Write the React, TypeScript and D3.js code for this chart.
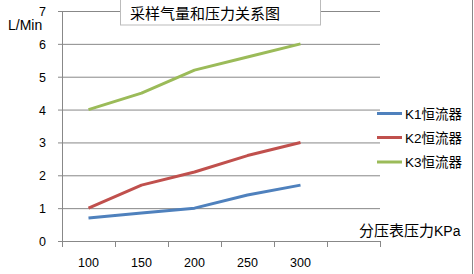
import React from "react";
import * as d3 from "d3";

const categories = ["100", "150", "200", "250", "300", ""];
const seriesNames = ["K1恒流器", "K2恒流器", "K3恒流器"];
const k1 = [0.7, 0.85, 1.0, 1.4, 1.7];
const k2 = [1.0, 1.7, 2.1, 2.6, 3.0];
const k3 = [4.0, 4.5, 5.2, 5.6, 6.0];
const yTicks = [0, 1, 2, 3, 4, 5, 6, 7];
const colors = ["#4F81BD", "#C0504D", "#9BBB59"];

export default function App() {
  const W = 474, H = 274;
  const left = 62, right = 380, top = 11, bottom = 241;
  const x = d3.scaleBand().domain(categories).range([left, right]).padding(0);
  const y = d3.scaleLinear().domain([0, 7]).range([bottom, top]);
  const series = [k1, k2, k3];
  const line = d3
    .line<number>()
    .x((_, i) => (x(categories[i]) as number) + x.bandwidth() / 2)
    .y((d) => y(d));
  const font = "'Liberation Sans', 'Noto Sans CJK SC', sans-serif";
  const cjk = "'Noto Sans CJK SC', sans-serif";
  const boundaries = categories.map((c) => x(c) as number).concat([right]);
  return (
    <svg width={W} height={H} style={{ position: "absolute", left: 0, top: 0, background: "#fff" }}>
      <rect x={0} y={0} width={W} height={H} fill="#fff" />
      {yTicks.map((t) => (
        <line key={t} x1={left - 4} x2={right} y1={y(t) + 0.5} y2={y(t) + 0.5} stroke="#888" strokeWidth={1} />
      ))}
      <line x1={left + 0.5} x2={left + 0.5} y1={top} y2={bottom + 5} stroke="#888" />
      {boundaries.map((b, i) => (
        <line key={i} x1={b + 0.5} x2={b + 0.5} y1={bottom} y2={bottom + 6} stroke="#888" />
      ))}
      {yTicks.map((t) => (
        <text key={t} x={46} y={y(t) + 5} textAnchor="end" fontFamily={font} fontSize={12.5} fill="#000">
          {t}
        </text>
      ))}
      {categories.map((c) => (
        <text key={c + "l"} x={(x(c) as number) + x.bandwidth() / 2} y={267} textAnchor="middle" fontFamily={font} fontSize={12.5} fill="#000">
          {c}
        </text>
      ))}
      {series.map((s, i) => (
        <path key={i} d={line(s) || ""} fill="none" stroke={colors[i]} strokeWidth={3} strokeLinejoin="round" />
      ))}
      <rect x={120.5} y={-1} width={200} height={26} fill="#fff" stroke="#BBB" />
      <text x={130} y={19} fontFamily={cjk} fontSize={15} fill="#000">采样气量和压力关系图</text>
      <text x={8} y={30} fontFamily={font} fontSize={14} fill="#000">L/Min</text>
      <text x={359} y={236} fontFamily={cjk} fontSize={15} fill="#000">
        分压表压力<tspan fontFamily={font} fontSize={14}>KPa</tspan>
      </text>
      {seriesNames.map((n, i) => {
        const ly = [113.5, 137.5, 162][i];
        return (
          <g key={n}>
            <line x1={377} x2={402} y1={ly} y2={ly} stroke={colors[i]} strokeWidth={3} />
            <text x={405} y={ly + 5} fontFamily={cjk} fontSize={13.5} fill="#000">
              <tspan fontFamily={font}>{n.slice(0, 2)}</tspan>
              {n.slice(2)}
            </text>
          </g>
        );
      })}
      <line x1={472.5} x2={472.5} y1={0} y2={H} stroke="#888" />
    </svg>
  );
}
